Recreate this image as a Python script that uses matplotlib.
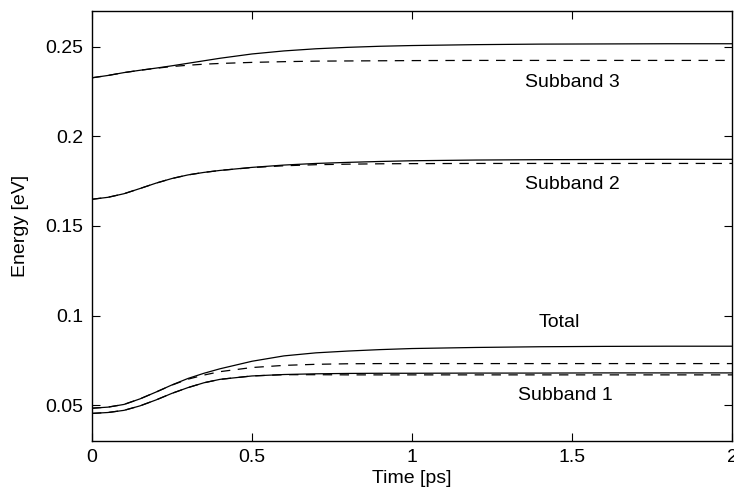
import numpy as np
import matplotlib
matplotlib.use("Agg")
import matplotlib.pyplot as plt

plt.rcParams['font.family'] = ['Liberation Sans', 'DejaVu Sans']

# time axis [ps]
t = [0, 0.05, 0.1, 0.15, 0.2, 0.25, 0.3, 0.35, 0.4, 0.5, 0.6, 0.7,
     0.8, 0.9, 1.0, 1.2, 1.4, 1.6, 1.8, 2.0]

# subband 3
sb3_solid = [0.2327, 0.2340, 0.2356, 0.2369, 0.2381, 0.2394, 0.2408, 0.2422, 0.2436, 0.2460,
             0.2477, 0.2489, 0.2497, 0.2503, 0.2507, 0.2512, 0.2515, 0.2516, 0.2517, 0.2517]
sb3_dash = [0.2327, 0.2340, 0.2356, 0.2369, 0.2380, 0.2390, 0.2397, 0.2403, 0.2407, 0.2413,
            0.2417, 0.2420, 0.2421, 0.2422, 0.2423, 0.2424, 0.2424, 0.2424, 0.2424, 0.2424]

# subband 2
sb2_solid = [0.1649, 0.1660, 0.1680, 0.1709, 0.1739, 0.1765, 0.1785, 0.1799, 0.1810, 0.1827,
             0.1840, 0.1849, 0.1855, 0.1860, 0.1864, 0.1868, 0.1870, 0.1871, 0.1872, 0.1872]
sb2_dash = [0.1649, 0.1660, 0.1680, 0.1709, 0.1739, 0.1765, 0.1785, 0.1799, 0.1810, 0.1826,
            0.1836, 0.1842, 0.1845, 0.1847, 0.1848, 0.1849, 0.1849, 0.1849, 0.1849, 0.1849]

# total
tot_solid = [0.0483, 0.0489, 0.0504, 0.0535, 0.0573, 0.0613, 0.0649, 0.0678, 0.0703, 0.0745,
             0.0775, 0.0792, 0.0802, 0.0810, 0.0816, 0.0822, 0.0826, 0.0828, 0.0829, 0.0829]
tot_dash = [0.0483, 0.0489, 0.0504, 0.0535, 0.0573, 0.0612, 0.0645, 0.0668, 0.0687, 0.0710,
            0.0722, 0.0728, 0.0731, 0.0732, 0.0732, 0.0732, 0.0732, 0.0732, 0.0732, 0.0732]

# subband 1
sb1_solid = [0.0454, 0.0459, 0.0471, 0.0496, 0.0529, 0.0566, 0.0598, 0.0625, 0.0644, 0.0663,
             0.0671, 0.0675, 0.0677, 0.0678, 0.0678, 0.0679, 0.0679, 0.0680, 0.0680, 0.0680]
sb1_dash = [0.0454, 0.0459, 0.0471, 0.0496, 0.0529, 0.0566, 0.0598, 0.0625, 0.0644, 0.0663,
            0.0670, 0.0670, 0.0669, 0.0669, 0.0669, 0.0669, 0.0669, 0.0669, 0.0669, 0.0669]

labels = ["Subband 3", "Subband 2", "Total", "Subband 1"]
label_x = [1.5, 1.5, 1.46, 1.48]
label_y = [0.2300, 0.1729, 0.0963, 0.0556]

xticks = [0, 0.5, 1, 1.5, 2]
yticks = [0.05, 0.1, 0.15, 0.2, 0.25]

fig = plt.figure(figsize=(7.34, 4.96), dpi=100)
ax = fig.add_axes([0.1253, 0.1109, 0.872, 0.867])

for solid, dash in [(sb3_solid, sb3_dash), (sb2_solid, sb2_dash),
                    (tot_solid, tot_dash), (sb1_solid, sb1_dash)]:
    ax.plot(t, dash, color='black', linestyle=(0, (7.5, 6)), linewidth=0.9)
    ax.plot(t, solid, color='black', linestyle='-', linewidth=0.9)

for lab, lx, ly in zip(labels, label_x, label_y):
    ax.text(lx, ly, lab, ha='center', va='center', fontsize=14)

ax.set_xlim(0, 2)
ax.set_ylim(0.03, 0.27)
ax.set_xticks(xticks)
ax.set_xticklabels(['%g' % v for v in xticks])
ax.set_yticks(yticks)
ax.set_yticklabels(['%g' % v for v in yticks])
ax.tick_params(direction='in', length=6, width=0.8, labelsize=14,
               top=True, right=True, pad=6)
for s in ax.spines.values():
    s.set_linewidth(1.0)

ax.set_xlabel('Time [ps]', fontsize=14, labelpad=3)
ax.set_ylabel('Energy [eV]', fontsize=14, labelpad=12)

fig.savefig('out.png', dpi=100)
